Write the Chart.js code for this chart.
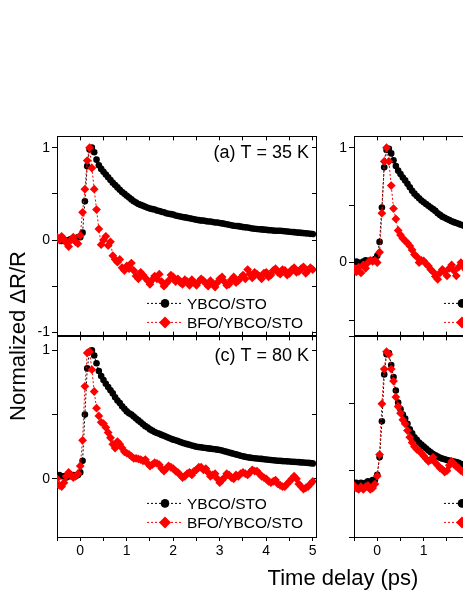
<!DOCTYPE html>
<html>
<head>
<meta charset="utf-8">
<script src="https://cdn.jsdelivr.net/npm/chart.js@4.4.0/dist/chart.umd.min.js"></script>
<style>
  html, body { margin: 0; padding: 0; background: #fff; }
  #fig { position: relative; width: 463px; height: 599px; overflow: hidden; background: #fff;
         font-family: 'Liberation Sans', Arial, sans-serif; }
  #fig canvas { position: absolute; }
  .title { position: absolute; font-size: 22px; line-height: 1; white-space: nowrap; color: #000; }
</style>
</head>
<body>
<div id="fig">
  <canvas id="panelA" width="309" height="220" style="left:17px; top:126px"></canvas>
  <canvas id="panelB" width="309" height="220" style="left:314px; top:126px"></canvas>
  <canvas id="panelC" width="309" height="241" style="left:17px; top:326px"></canvas>
  <canvas id="panelD" width="309" height="241" style="left:314px; top:326px"></canvas>
  <div class="title" style="left:343px; top:567px; transform:translateX(-50%)">Time delay (ps)</div>
  <div class="title" style="left:18px; top:336px; transform:translate(-50%,-50%) rotate(-90deg)">Normalized &Delta;R/R</div>
</div>
<script>
// time delay grids (ps)
var timeLeft = [-0.5,-0.45,-0.4,-0.35,-0.3,-0.25,-0.2,-0.15,-0.1,-0.05,
    0,0.05,0.1,0.15,0.2,0.25,0.3,0.35,0.4,0.45,
    0.5,0.55,0.6,0.65,0.7,0.75,0.8,0.85,0.9,0.95,
    1.0,1.05,1.1,1.15,1.2,1.25,1.3,1.35,1.4,1.45,
    1.5,1.55,1.6,1.65,1.7,1.75,1.8,1.85,1.9,1.95,
    2.0,2.05,2.1,2.15,2.2,2.25,2.3,2.35,2.4,2.45,
    2.5,2.55,2.6,2.65,2.7,2.75,2.8,2.85,2.9,2.95,
    3.0,3.05,3.1,3.15,3.2,3.25,3.3,3.35,3.4,3.45,
    3.5,3.55,3.6,3.65,3.7,3.75,3.8,3.85,3.9,3.95,
    4.0,4.05,4.1,4.15,4.2,4.25,4.3,4.35,4.4,4.45,
    4.5,4.55,4.6,4.65,4.7,4.75,4.8,4.85,4.9,4.95,
    5.0];
var timeRight = [-0.5,-0.45,-0.4,-0.35,-0.3,-0.25,-0.2,-0.15,-0.1,-0.05,
    0,0.05,0.1,0.15,0.2,0.25,0.3,0.35,0.4,0.45,
    0.5,0.55,0.6,0.65,0.7,0.75,0.8,0.85,0.9,0.95,
    1.0,1.05,1.1,1.15,1.2,1.25,1.3,1.35,1.4,1.45,
    1.5,1.55,1.6,1.65,1.7,1.75,1.8,1.85,1.9,1.95,
    2.0];

var seriesNames = ['YBCO/STO', 'BFO/YBCO/STO'];
var panelLabels = ['(a) T = 35 K', '', '(c) T = 80 K', ''];

// (a) 35 K
var ybcoA = [0.02,0.01,-0.01,0.0,-0.02,0.0,0.01,0.0,0.01,0.03,
    0.03,0.08,0.42,0.80,0.98,1.0,0.95,0.87,0.81,0.77,
    0.74,0.71,0.68,0.65,0.62,0.595,0.57,0.545,0.52,0.50,
    0.48,0.46,0.44,0.42,0.405,0.39,0.38,0.37,0.36,0.35,
    0.34,0.335,0.33,0.32,0.315,0.305,0.30,0.29,0.285,0.28,
    0.275,0.265,0.26,0.255,0.25,0.245,0.24,0.235,0.23,0.225,
    0.22,0.215,0.21,0.21,0.205,0.20,0.20,0.195,0.19,0.19,
    0.185,0.18,0.175,0.17,0.165,0.16,0.155,0.152,0.15,0.145,
    0.14,0.137,0.135,0.13,0.125,0.122,0.12,0.117,0.115,0.112,
    0.11,0.107,0.105,0.102,0.10,0.10,0.10,0.097,0.095,0.092,
    0.09,0.087,0.085,0.082,0.08,0.077,0.075,0.072,0.07,0.067,
    0.065];
var bfoA = [0.03,0.0,0.04,0.01,-0.03,-0.07,0.0,0.03,-0.02,-0.04,
    0.05,0.30,0.55,0.86,1.0,0.78,0.55,0.33,0.12,-0.05,
    0.0,0.04,-0.06,-0.02,-0.17,-0.21,-0.24,-0.21,-0.30,-0.33,
    -0.28,-0.31,-0.25,-0.33,-0.39,-0.42,-0.35,-0.38,-0.41,-0.44,
    -0.48,-0.43,-0.39,-0.42,-0.37,-0.45,-0.50,-0.47,-0.44,-0.38,
    -0.40,-0.45,-0.42,-0.46,-0.48,-0.43,-0.45,-0.49,-0.43,-0.46,
    -0.49,-0.45,-0.42,-0.44,-0.47,-0.50,-0.44,-0.47,-0.51,-0.46,
    -0.42,-0.40,-0.45,-0.49,-0.48,-0.43,-0.40,-0.46,-0.44,-0.41,
    -0.38,-0.42,-0.32,-0.37,-0.41,-0.35,-0.37,-0.39,-0.42,-0.36,
    -0.35,-0.40,-0.38,-0.33,-0.31,-0.35,-0.37,-0.32,-0.33,-0.38,
    -0.36,-0.32,-0.30,-0.35,-0.34,-0.31,-0.29,-0.36,-0.33,-0.30,
    -0.32];

// (b)
var ybcoB = [0.0,0.01,0.0,-0.01,0.01,0.02,0.01,0.02,0.02,0.03,
    0.06,0.18,0.48,0.83,0.98,0.99,0.95,0.89,0.84,0.80,
    0.77,0.74,0.715,0.685,0.655,0.625,0.60,0.58,0.56,0.54,
    0.525,0.51,0.495,0.48,0.465,0.45,0.43,0.415,0.40,0.39,
    0.38,0.37,0.36,0.352,0.345,0.337,0.33,0.322,0.315,0.307,
    0.30];
var bfoB = [-0.05,-0.08,-0.04,-0.09,-0.02,-0.05,0.0,0.02,0.01,0.02,
    0.0,0.09,0.43,0.88,1.0,0.88,0.67,0.47,0.38,0.28,
    0.24,0.21,0.19,0.17,0.145,0.11,0.07,0.05,0.0,0.02,
    0.015,-0.01,-0.03,-0.06,-0.08,-0.12,-0.145,-0.09,-0.06,-0.08,
    -0.115,-0.05,-0.02,-0.07,-0.115,-0.04,0.0,-0.03,-0.06,-0.02,
    -0.04];

// (c) 80 K
var ybcoC = [0.02,0.03,0.02,0.02,0.01,0.02,0.02,0.03,0.02,0.03,
    0.05,0.14,0.50,0.86,0.99,1.0,0.96,0.90,0.84,0.80,
    0.77,0.74,0.715,0.69,0.665,0.635,0.61,0.59,0.565,0.545,
    0.525,0.51,0.50,0.485,0.47,0.455,0.44,0.425,0.41,0.40,
    0.385,0.375,0.365,0.357,0.35,0.342,0.335,0.327,0.32,0.312,
    0.305,0.30,0.295,0.287,0.28,0.275,0.27,0.265,0.26,0.255,
    0.25,0.247,0.245,0.242,0.24,0.237,0.235,0.232,0.23,0.227,
    0.225,0.22,0.215,0.21,0.205,0.20,0.195,0.19,0.185,0.18,
    0.175,0.171,0.168,0.165,0.162,0.16,0.158,0.156,0.155,0.152,
    0.15,0.148,0.147,0.145,0.143,0.141,0.14,0.138,0.137,0.136,
    0.135,0.133,0.132,0.131,0.13,0.128,0.127,0.125,0.124,0.122,
    0.12];
var bfoC = [0.0,-0.05,-0.06,-0.03,0.02,0.05,0.03,0.01,0.02,0.04,
    0.10,0.30,0.72,0.98,0.99,0.85,0.68,0.55,0.49,0.44,
    0.43,0.40,0.36,0.32,0.27,0.24,0.29,0.27,0.24,0.21,
    0.20,0.19,0.175,0.16,0.16,0.155,0.15,0.14,0.15,0.12,
    0.10,0.11,0.125,0.12,0.11,0.08,0.06,0.08,0.10,0.09,
    0.08,0.06,0.05,0.03,0.01,0.02,0.04,0.05,0.03,0.06,
    0.07,0.09,0.09,0.07,0.08,0.05,0.02,0.03,0.04,0.0,
    -0.03,-0.01,0.01,0.04,0.03,0.01,0.0,0.03,0.02,0.04,
    0.05,0.04,0.03,0.05,0.07,0.06,0.06,0.04,0.02,0.01,
    0.0,-0.02,-0.03,-0.02,-0.01,-0.04,-0.05,-0.06,-0.06,-0.04,
    -0.02,0.0,0.02,0.0,-0.04,-0.06,-0.08,-0.07,-0.06,-0.04,
    -0.02];

// (d)
var ybcoD = [0.01,0.01,0.0,0.01,0.0,0.01,0.02,0.01,0.03,0.03,
    0.07,0.20,0.47,0.82,0.97,0.98,0.89,0.80,0.70,0.61,
    0.56,0.52,0.49,0.45,0.41,0.38,0.35,0.33,0.31,0.295,
    0.28,0.265,0.25,0.237,0.225,0.215,0.205,0.197,0.19,0.185,
    0.18,0.176,0.172,0.168,0.165,0.158,0.15,0.145,0.14,0.135,
    0.13];
var bfoD = [-0.01,-0.03,-0.04,-0.02,-0.04,-0.02,-0.01,-0.04,-0.03,0.0,
    0.06,0.22,0.60,0.86,0.99,0.97,0.86,0.77,0.65,0.58,
    0.53,0.48,0.45,0.40,0.35,0.31,0.28,0.26,0.25,0.23,
    0.21,0.19,0.17,0.18,0.20,0.16,0.14,0.12,0.11,0.09,
    0.10,0.14,0.17,0.15,0.13,0.12,0.10,0.09,0.08,0.075,
    0.07];

Chart.defaults.font.family = "'Liberation Sans', Arial, sans-serif";
Chart.defaults.color = '#000';

function toPoints(xs, ys) {
    return xs.map(function(x, i) { return {x: x, y: ys[i]}; });
}

function intLabel(v) {
    return Math.abs(v - Math.round(v)) < 1e-6 ? String(Math.round(v)) : '';
}

// panel label text and the in-plot legend
var panelDecor = {
    id: 'panelDecor',
    afterDraw: function(chart, args, opts) {
        var ctx = chart.ctx, a = chart.chartArea;
        ctx.save();
        ctx.fillStyle = '#000';
        if (opts.label) {
            ctx.font = "18px 'Liberation Sans', Arial, sans-serif";
            ctx.textAlign = 'right';
            ctx.textBaseline = 'middle';
            ctx.fillText(opts.label, a.right - 7, a.top + opts.labelY);
        }
        chart.data.datasets.forEach(function(ds, i) {
            var y = a.top + 167 + 19 * i;
            var cx = a.left + 108;
            ctx.strokeStyle = ds.borderColor;
            ctx.lineWidth = 1;
            ctx.setLineDash([2, 2]);
            ctx.beginPath();
            ctx.moveTo(a.left + 90, y);
            ctx.lineTo(a.left + 125, y);
            ctx.stroke();
            ctx.setLineDash([]);
            ctx.fillStyle = ds.pointBackgroundColor;
            ctx.beginPath();
            if (ds.pointStyle === 'circle') {
                ctx.arc(cx, y, 4.3, 0, Math.PI * 2);
            } else {
                ctx.moveTo(cx, y - 6); ctx.lineTo(cx + 6, y);
                ctx.lineTo(cx, y + 6); ctx.lineTo(cx - 6, y);
                ctx.closePath();
            }
            ctx.fill();
            ctx.fillStyle = '#000';
            ctx.font = "15.5px 'Liberation Sans', Arial, sans-serif";
            ctx.textAlign = 'left';
            ctx.textBaseline = 'middle';
            ctx.fillText(ds.label, a.left + 130, y + 1);
        });
        ctx.restore();
    }
};

function makePanel(id, times, ybco, bfo, yMin, yMax, showX, label, labelY) {
    var xMin = -0.5, xMax = 5.07;
    var border = {display: true, color: '#000', width: 1};
    var ctx = document.getElementById(id).getContext('2d');
    return new Chart(ctx, {
        type: 'scatter',
        data: {
            datasets: [{
                label: seriesNames[0],
                data: toPoints(times, ybco),
                showLine: true,
                borderColor: '#000',
                borderWidth: 1,
                borderDash: [2, 2],
                pointStyle: 'circle',
                pointRadius: 3.3,
                pointBorderWidth: 0,
                pointBackgroundColor: '#000',
                order: 1
            }, {
                label: seriesNames[1],
                data: toPoints(times, bfo),
                showLine: true,
                borderColor: '#ff0000',
                borderWidth: 1,
                borderDash: [2, 2],
                pointStyle: 'rectRot',
                pointRadius: 4.4,
                pointBorderWidth: 0,
                pointBackgroundColor: '#ff0000',
                order: 0
            }]
        },
        options: {
            responsive: false,
            animation: false,
            devicePixelRatio: 1,
            layout: {padding: {top: 10, right: 10, left: 0, bottom: 0}},
            plugins: {
                legend: {display: false},
                tooltip: {enabled: false},
                panelDecor: {label: label, labelY: labelY}
            },
            scales: {
                x: {
                    type: 'linear', position: 'bottom', min: xMin, max: xMax,
                    ticks: {stepSize: 0.5, autoSkip: false, includeBounds: false, maxRotation: 0,
                            display: showX, padding: 2, font: {size: 14}, callback: intLabel},
                    grid: {drawOnChartArea: false, color: '#000', tickLength: showX ? 4 : -4},
                    border: border,
                    afterFit: function(s) { s.height = showX ? 30 : 10; }
                },
                x2: {
                    type: 'linear', position: 'top', min: xMin, max: xMax,
                    ticks: {stepSize: 0.5, autoSkip: false, includeBounds: false, display: false},
                    grid: {drawOnChartArea: false, color: '#000', tickLength: -4},
                    border: border,
                    afterFit: function(s) { s.height = 0; }
                },
                y: {
                    type: 'linear', position: 'left', min: yMin, max: yMax,
                    ticks: {stepSize: 0.5, autoSkip: false, includeBounds: false,
                            padding: 2, font: {size: 14}, callback: intLabel},
                    grid: {drawOnChartArea: false, color: '#000', tickLength: 5},
                    border: border,
                    afterFit: function(s) { s.width = 40; }
                },
                y2: {
                    type: 'linear', position: 'right', min: yMin, max: yMax,
                    ticks: {stepSize: 0.5, autoSkip: false, includeBounds: false, display: false},
                    grid: {drawOnChartArea: false, color: '#000', tickLength: -4},
                    border: border,
                    afterFit: function(s) { s.width = 0; }
                }
            }
        },
        plugins: [panelDecor]
    });
}

makePanel('panelA', timeLeft, ybcoA, bfoA, -1.035, 1.122, false, panelLabels[0], 17);
makePanel('panelB', timeRight, ybcoB, bfoB, -0.635, 1.098, false, panelLabels[1], 17);
makePanel('panelC', timeLeft, ybcoC, bfoC, -0.453, 1.109, true, panelLabels[2], 20);
makePanel('panelD', timeRight, ybcoD, bfoD, -0.396, 1.104, true, panelLabels[3], 20);
</script>
</body>
</html>
